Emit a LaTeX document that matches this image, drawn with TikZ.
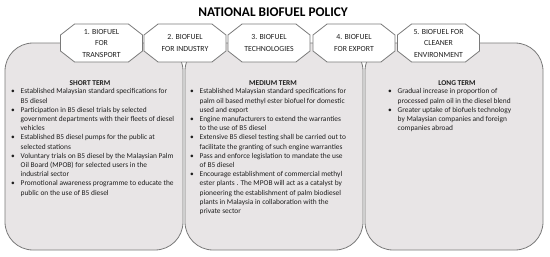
\documentclass[tikz,border=0pt]{standalone}
\usepackage{fontspec}
\setmainfont{Carlito}
\usepackage{tikz}
\usetikzlibrary{shapes.misc}

\definecolor{panelgray}{HTML}{E8E5E6}
\definecolor{edgegray}{HTML}{7A7A7A}
\definecolor{inkgray}{HTML}{1E1E1E}

\newcommand{\bul}{\makebox[9.5pt][l]{\textbullet}}
\newcommand{\ind}{\hspace*{9.5pt}}

\tikzset{
    panel/.style = {draw = edgegray, fill = panelgray, line width = .8pt,
        rounded corners = 28pt, minimum width = 178pt, minimum height = 207pt,
        inner sep = 0},
    policy/.style = {chamfered rectangle, chamfered rectangle angle = 52,
        chamfered rectangle xsep = 10pt,
        draw = edgegray, fill = white, line width = .8pt,
        minimum width = 82pt, minimum height = 38pt, inner sep = 0,
        align = center, text = inkgray,
        font = \fontsize{7.8}{11.5}\selectfont},
    termhead/.style = {font = \fontsize{7.4}{9.2}\selectfont\bfseries,
        text = inkgray, inner sep = 0},
    termlist/.style = {anchor = north west, align = left, inner sep = 0,
        text = inkgray, font = \fontsize{7.4}{9.2}\selectfont}
}

\begin{document}
\begin{tikzpicture}[x = 1pt, y = -1pt]
    \useasboundingbox (0, 0) rectangle (550, 257);

    %% title
    \node[font = \fontsize{13.3}{15}\selectfont\bfseries] (title) at (273, 12)
        {NATIONAL BIOFUEL POLICY};

    %% panels
    \node[panel] (shortterm) at (94, 146.5) {};
    \node[panel] (mediumterm) at (274, 146.5) {};
    \node[panel] (longterm) at (454, 146.5) {};

    %% policy boxes
    \node[policy] (transport) at (101.5, 43) {1. BIOFUEL\\FOR\\TRANSPORT};
    \node[policy] (industry) at (185, 43) {2. BIOFUEL\\FOR INDUSTRY};
    \node[policy] (technology) at (269, 43) {3. BIOFUEL\\TECHNOLOGIES};
    \node[policy] (export) at (354, 43) {4. BIOFUEL\\FOR EXPORT};
    \node[policy] (environment) at (438.5, 43)
        {5. BIOFUEL FOR\\CLEANER\\ENVIRONMENT};

    %% short term
    \node[termhead] (shorthead) at (90, 83) {SHORT TERM};
    \node[termlist] (shortlist) at (11, 88.5) {%
        \bul Established Malaysian standard specifications for\\
        \ind B5 diesel\\
        \bul Participation in B5 diesel trials by selected\\
        \ind government departments with their fleets of diesel\\
        \ind vehicles\\
        \bul Established B5 diesel pumps for the public at\\
        \ind selected stations\\
        \bul Voluntary trials on B5 diesel by the Malaysian Palm\\
        \ind Oil Board (MPOB) for selected users in the\\
        \ind industrial sector\\
        \bul Promotional awareness programme to educate the\\
        \ind public on the use of B5 diesel};

    %% medium term
    \node[termhead] (mediumhead) at (273, 83) {MEDIUM TERM};
    \node[termlist] (mediumlist) at (190, 88.5) {%
        \bul Established Malaysian standard specifications for\\
        \ind palm oil based methyl ester biofuel for domestic\\
        \ind used and export\\
        \bul Engine manufacturers to extend the warranties\\
        \ind to the use of B5 diesel\\
        \bul Extensive B5 diesel testing shall be carried out to\\
        \ind facilitate the granting of such engine warranties\\
        \bul Pass and enforce legislation to mandate the use\\
        \ind of B5 diesel\\
        \bul Encourage establishment of commercial methyl\\
        \ind ester plants . The MPOB will act as a catalyst by\\
        \ind pioneering the establishment of palm biodiesel\\
        \ind plants in Malaysia in collaboration with the\\
        \ind private sector};

    %% long term
    \node[termhead] (longhead) at (457, 83) {LONG TERM};
    \node[termlist] (longlist) at (388, 88.5) {%
        \bul Gradual increase in proportion of\\
        \ind processed palm oil in the diesel blend\\
        \bul Greater uptake of biofuels technology\\
        \ind by Malaysian companies and foreign\\
        \ind companies abroad};
\end{tikzpicture}
\end{document}
